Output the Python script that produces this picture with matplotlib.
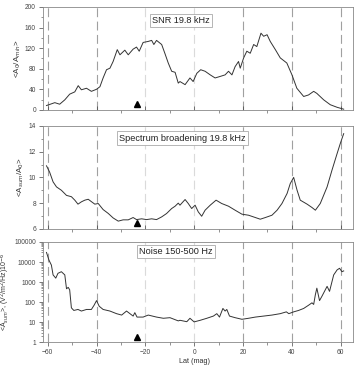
import numpy as np
import matplotlib
matplotlib.use("Agg")
import matplotlib.pyplot as plt
import matplotlib.transforms as mtransforms
from matplotlib.ticker import MultipleLocator, LogLocator, NullFormatter

plt.rcParams['font.family'] = ['Liberation Sans', 'DejaVu Sans']

# SNR 19.8 kHz
snr_lat = [-60.5, -57.1, -55.1, -53.0, -51.0, -48.9, -47.5, -46.2, -44.1, -42.1, -40.0,
           -38.6, -37.3, -35.9, -34.5, -33.2, -31.5, -30.4, -28.4, -27.0, -25.0, -23.6,
           -22.5, -20.9, -18.8, -17.4, -16.5, -15.4, -13.3, -12.0, -10.6, -9.2, -7.8,
           -6.5, -5.8, -3.7, -1.7, -0.4, 1.1, 2.7, 4.5, 6.6, 8.6, 10.7, 12.7, 14.1,
           15.5, 16.8, 18.2, 18.9, 20.3, 21.6, 23.0, 24.4, 25.7, 27.4, 28.5, 29.9,
           31.2, 33.3, 35.3, 38.0, 40.1, 42.1, 44.9, 46.9, 49.0, 50.3, 53.1, 55.8,
           58.6, 61.3]
snr_val = [8.4, 14, 11, 19.5, 30.5, 35, 47, 39, 42, 36, 40,
           45, 62, 78, 81, 94, 117, 107, 116, 107, 118, 122,
           114, 131, 133, 135, 127, 135, 127, 110, 91, 75, 73,
           52, 55, 49, 62, 55, 71, 78, 75, 68, 62, 65, 68, 75,
           68, 84, 94, 81, 101, 114, 110, 127, 123, 149, 143, 146,
           133, 117, 101, 91, 68, 42, 26, 29, 36, 32, 19.5, 10,
           5, 1.3]

# Spectrum broadening 19.8 kHz
br_lat = [-60.5, -59.2, -57.8, -56.4, -54.4, -52.3, -50.3, -48.9, -47.6, -46.2, -44.8,
          -43.4, -42.0, -40.7, -39.3, -37.3, -35.2, -33.2, -31.1, -29.1, -27.0, -25.0,
          -23.6, -21.5, -19.5, -17.4, -15.4, -13.3, -11.3, -9.2, -7.8, -6.5, -5.8,
          -3.7, -2.4, -1.0, 0.4, 1.7, 3.1, 4.5, 6.6, 9.0, 11.3, 14.1, 16.8, 19.6,
          22.3, 25.1, 27.1, 29.2, 31.9, 34.0, 36.0, 38.1, 39.4, 40.8, 42.2, 43.5,
          46.3, 48.3, 49.7, 51.7, 54.5, 56.5, 58.6, 59.9, 61.3]
br_val = [10.9, 10.4, 9.65, 9.26, 9.0, 8.6, 8.5, 8.23, 7.92, 8.1, 8.23,
          8.3, 8.1, 7.92, 7.97, 7.5, 7.2, 6.85, 6.6, 6.7, 6.7, 6.88,
          6.72, 6.78, 6.72, 6.78, 6.72, 6.93, 7.19, 7.58, 7.76, 8.0, 7.84,
          8.28, 7.97, 7.58, 7.84, 7.32, 6.98, 7.45, 7.84, 8.23, 7.97, 7.76, 7.45, 7.14,
          7.06, 6.88, 6.75, 6.88, 7.06, 7.45, 7.97, 8.75, 9.52, 10.0, 9.0, 8.23,
          7.92, 7.66, 7.45, 7.97, 9.26, 10.56, 11.85, 12.63, 13.4]

# Noise 150-500 Hz (log10 of value)
nz_lat = [-60.5, -59.5, -58.5, -57.8, -56.7, -55.8, -54.4, -53.0, -52.3, -51.6, -51.0,
          -50.3, -49.3, -47.6, -46.2, -44.1, -42.1, -41.0, -40.0, -38.9, -37.3, -34.5,
          -31.8, -29.7, -27.7, -26.3, -25.0, -24.3, -23.4, -20.9, -18.8, -15.4, -12.6,
          -9.9, -6.5, -5.8, -3.0, -1.7, 0.0, 2.5, 5.2, 7.9, 9.3, 10.4, 11.8, 12.7,
          13.4, 14.5, 16.8, 19.6, 22.3, 25.1, 28.5, 31.9, 35.3, 37.8, 38.8, 40.8,
          42.8, 44.9, 46.9, 48.3, 49.0, 49.7, 50.3, 51.4, 52.4, 54.5, 55.5, 57.2,
          58.6, 59.6, 60.6, 61.3]
nz_log = [4.48, 4.1, 3.85, 3.36, 3.2, 3.44, 3.52, 3.36, 2.67, 2.74, 2.62,
          1.72, 1.59, 1.64, 1.56, 1.64, 1.64, 1.85, 2.08, 1.8, 1.64, 1.56,
          1.43, 1.36, 1.56, 1.43, 1.31, 1.48, 1.26, 1.26, 1.36, 1.26, 1.2,
          1.23, 1.07, 1.1, 1.03, 1.2, 1.02, 1.1, 1.2, 1.31, 1.43, 1.26, 1.69, 1.56,
          1.64, 1.31, 1.23, 1.15, 1.2, 1.26, 1.31, 1.36, 1.43, 1.52, 1.43, 1.52,
          1.59, 1.69, 1.85, 1.97, 1.89, 2.38, 2.7, 2.08, 2.3, 2.79, 2.54, 3.36,
          3.61, 3.69, 3.52, 3.56]
nz_val = [10 ** v for v in nz_log]

marker_lat = -23.3
dark_lines = [-60, -40, 20, 40, 60]
light_lines = [-20, 0]

fig = plt.figure(figsize=(3.57, 3.65), dpi=100)
left, width, height = 0.120, 0.868, 0.282
axes = [fig.add_axes([left, 0.699, width, height]),
        fig.add_axes([left, 0.373, width, height]),
        fig.add_axes([left, 0.062, width, height - 0.007])]

panels = [
    (snr_lat, snr_val, "SNR 19.8 kHz", r"<A$_0$/A$_{min}$>", (0, 200), 0.445, 0.87, 5.8),
    (br_lat, br_val, "Spectrum broadening 19.8 kHz", r"<A$_{sum}$/A$_0$>", (6, 14), 0.45, 0.88, 5.8),
    (nz_lat, nz_val, "Noise 150-500 Hz", r"<A$_{sum}$>, (V$^2$/m$^2$/Hz)10$^{-6}$", (1, 100000), 0.43, 0.905, 5.0),
]

for i, (ax, (lat, val, title, ylab, ylim, tx, ty, yfs)) in enumerate(zip(axes, panels)):
    for x in dark_lines:
        ax.axvline(x, color="#a0a0a0", lw=0.8, ls=(0, (8, 4)), zorder=1)
    for x in light_lines:
        ax.axvline(x, color="#dadada", lw=0.8, ls=(0, (8, 4)), zorder=1)
    ax.plot(lat, val, color="#333333", lw=0.7, zorder=3)
    ax.set_xlim(-62, 65)
    if i == 2:
        ax.set_yscale("log")
        ax.set_ylim(*ylim)
        ax.set_yticks([1, 10, 100, 1000, 10000, 100000])
        ax.set_yticklabels(["1", "10", "100", "1000", "10000", "100000"])
        ax.yaxis.set_minor_locator(LogLocator(base=10, subs=np.arange(2, 10)))
        ax.yaxis.set_minor_formatter(NullFormatter())
    else:
        ax.set_ylim(*ylim)
        step = 40 if i == 0 else 2
        ax.yaxis.set_major_locator(MultipleLocator(step))
        ax.yaxis.set_minor_locator(MultipleLocator(step / 2))
    ax.xaxis.set_major_locator(MultipleLocator(20))
    ax.xaxis.set_minor_locator(MultipleLocator(10))
    ax.tick_params(labelsize=4.8, colors="#444444", length=3, width=0.5, pad=2)
    ax.tick_params(which="minor", length=1.8, width=0.5, colors="#666666")
    if i < 2:
        ax.tick_params(axis="x", labelbottom=False, direction="in")
    else:
        ax.tick_params(axis="x", pad=1.5)
    for s in ax.spines.values():
        s.set_color("#888888")
        s.set_linewidth(0.6)
    ax.set_ylabel(ylab, fontsize=yfs, color="#333333", labelpad=1.5)
    ax.text(tx, ty, title, transform=ax.transAxes, ha="center", va="center",
            fontsize=6.6, color="#222222",
            bbox=dict(boxstyle="square,pad=0.25", fc="white", ec="#aaaaaa", lw=0.6),
            zorder=5)
    trans = mtransforms.blended_transform_factory(ax.transData, ax.transAxes)
    ax.plot([marker_lat], [0.055], marker="^", ms=5, color="black",
            transform=trans, clip_on=False, zorder=6)

fig.text(0.545, 0.0, "Lat (mag)", ha="center", va="bottom", fontsize=5.2, color="#333333")

fig.savefig("out.png", dpi=100)
